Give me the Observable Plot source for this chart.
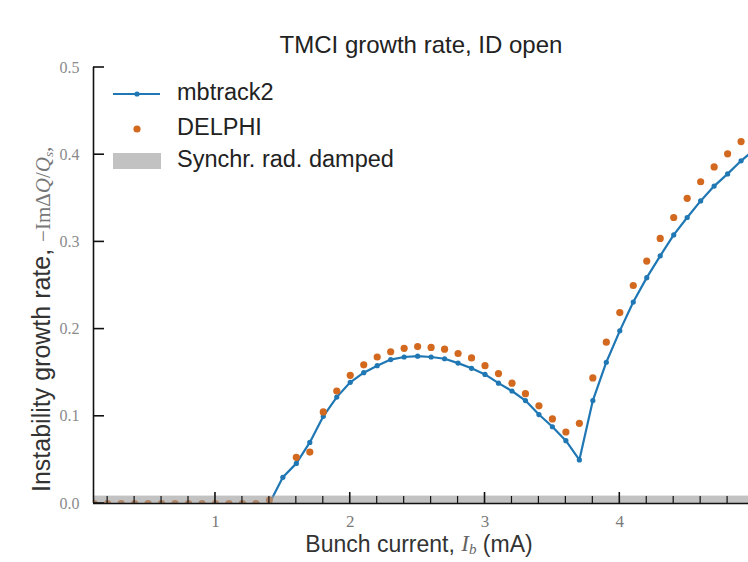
<!DOCTYPE html>
<html><head><meta charset="utf-8">
<script src="https://cdn.jsdelivr.net/npm/d3@7"></script>
<script src="https://cdn.jsdelivr.net/npm/@observablehq/plot@0.6"></script>
<style>
body{margin:0;background:#fff}
#chart{position:relative;width:748px;height:562px}
</style>
</head><body><div id="chart"></div>
<script>
// ---- data ----
const mbCurrent = [1.4,1.5,1.6,1.7,1.8,1.9,2.0,2.1,2.2,2.3,2.4,2.5,2.6,2.7,2.8,2.9,3.0,3.1,3.2,3.3,3.4,3.5,3.6,3.7,3.8,3.9,4.0,4.1,4.2,4.3,4.4,4.5,4.6,4.7,4.8,4.9,5.0];
const mbRate = [0.0,0.030,0.046,0.070,0.100,0.122,0.139,0.150,0.158,0.165,0.168,0.169,0.168,0.166,0.161,0.155,0.148,0.138,0.129,0.118,0.102,0.088,0.072,0.050,0.118,0.162,0.198,0.231,0.259,0.284,0.308,0.328,0.347,0.364,0.378,0.393,0.406];
const delphiCurrent = [0.1,0.2,0.3,0.4,0.5,0.6,0.7,0.8,0.9,1.0,1.1,1.2,1.3,1.4,1.6,1.7,1.8,1.9,2.0,2.1,2.2,2.3,2.4,2.5,2.6,2.7,2.8,2.9,3.0,3.1,3.2,3.3,3.4,3.5,3.6,3.7,3.8,3.9,4.0,4.1,4.2,4.3,4.4,4.5,4.6,4.7,4.8,4.9,5.0];
const delphiRate = [0,0,0,0,0,0,0,0,0,0,0,0,0,0.004,0.053,0.059,0.105,0.129,0.147,0.159,0.168,0.174,0.178,0.180,0.179,0.177,0.172,0.167,0.158,0.149,0.138,0.126,0.112,0.097,0.082,0.092,0.144,0.185,0.219,0.250,0.278,0.304,0.328,0.350,0.369,0.386,0.401,0.415,0.428];
const srDamping = [0.0085];
const xTicks = [1,2,3,4];
const xMinorTicks = [0.2,0.4,0.6,0.8,1.2,1.4,1.6,1.8,2.2,2.4,2.6,2.8,3.2,3.4,3.6,3.8,4.2,4.4,4.6,4.8];
const yTicks = [0,0.1,0.2,0.3,0.4,0.5];
const titleText = "TMCI growth rate, ID open";
const seriesNames = ["mbtrack2","DELPHI","Synchr. rad. damped"];

const BLUE = "#1f77b4", ORANGE = "#d2691e", GRAY = "#9a9a9a";
const mb = mbCurrent.map((x,i)=>({x, y: mbRate[i]}));
const delphi = delphiCurrent.map((x,i)=>({x, y: delphiRate[i]}));
const xDomain = [0.095, 4.955];

const plot = Plot.plot({
  width: 748, height: 562,
  marginLeft: 93, marginRight: 0, marginTop: 67, marginBottom: 59,
  x: {domain: xDomain},
  y: {domain: [0, 0.5]},
  style: {background: "transparent", overflow: "visible"},
  marks: [
    Plot.line(mb, {x: "x", y: "y", stroke: BLUE, strokeWidth: 2.2, clip: true}),
    Plot.dot(mb, {x: "x", y: "y", r: 2.6, fill: BLUE, clip: true}),
    Plot.dot(delphi, {x: "x", y: "y", r: 3.6, fill: ORANGE, clip: true}),
    Plot.rectY(srDamping, {x1: xDomain[0], x2: xDomain[1], y1: 0, y2: d => d, fill: GRAY, fillOpacity: 0.6}),
    Plot.ruleY([0], {stroke: "#111", strokeWidth: 1.6}),
    Plot.ruleX([xDomain[0]], {y1: 0, y2: 0.5, stroke: "#111", strokeWidth: 1.6}),
    Plot.axisX({ticks: xTicks, tickSize: 0, tickPadding: 11, label: null, fontSize: 17, fontFamily: "Liberation Serif", color: "#7a7a7a", tickFormat: d3.format("d")}),
    Plot.axisY({ticks: yTicks, tickSize: 0, tickPadding: 14, label: null, fontSize: 16, fontFamily: "Liberation Serif", color: "#8a8a8a", tickFormat: d3.format(".1f")})
  ]
});
document.getElementById("chart").appendChild(plot);

const svg = d3.select(plot);
const xs = plot.scale("x"), ys = plot.scale("y");

// inward ticks, placed through Plot's own scales
const tg = svg.append("g").attr("stroke", "#111");
xMinorTicks.forEach(v => tg.append("line").attr("x1", xs.apply(v)).attr("x2", xs.apply(v)).attr("y1", ys.apply(0)).attr("y2", ys.apply(0) - 7).attr("stroke-width", 1.2));
xTicks.forEach(v => tg.append("line").attr("x1", xs.apply(v)).attr("x2", xs.apply(v)).attr("y1", ys.apply(0)).attr("y2", ys.apply(0) - 11).attr("stroke-width", 1.6));
yTicks.forEach(v => tg.append("line").attr("x1", xs.apply(xDomain[0])).attr("x2", xs.apply(xDomain[0]) + 11).attr("y1", ys.apply(v)).attr("y2", ys.apply(v)).attr("stroke-width", 1.6));

// ---- text: title, axis labels, legend ----
const SANS = "Liberation Sans, Arial, sans-serif", SERIF = "Liberation Serif, serif";

svg.append("text").attr("x", 421).attr("y", 47).attr("text-anchor", "middle").attr("dominant-baseline", "middle")
  .attr("font-family", SANS).attr("font-size", 24).attr("fill", "#222").text(titleText);

const xl = svg.append("text").attr("x", 419).attr("y", 546).attr("text-anchor", "middle").attr("dominant-baseline", "middle")
  .attr("font-family", SANS).attr("font-size", 23).attr("fill", "#333");
xl.append("tspan").text("Bunch current, ");
xl.append("tspan").attr("font-family", SERIF).attr("font-style", "italic").attr("fill", "#666").text("I");
xl.append("tspan").attr("font-family", SERIF).attr("font-style", "italic").attr("font-size", 15).attr("fill", "#666").attr("dy", 5).text("b");
xl.append("tspan").attr("dy", -5).text(" (mA)");

const yl = svg.append("text").attr("transform", "translate(50,492) rotate(-90)").attr("text-anchor", "start")
  .attr("font-family", SANS).attr("font-size", 25).attr("fill", "#333");
yl.append("tspan").text("Instability growth rate, ");
yl.append("tspan").attr("font-family", SERIF).attr("font-size", 21).attr("fill", "#777").text("\u2212Im\u0394");
yl.append("tspan").attr("font-family", SERIF).attr("font-size", 21).attr("font-style", "italic").attr("fill", "#777").text("Q");
yl.append("tspan").attr("font-family", SERIF).attr("font-size", 21).attr("fill", "#777").text("/");
yl.append("tspan").attr("font-family", SERIF).attr("font-size", 21).attr("font-style", "italic").attr("fill", "#777").text("Q");
yl.append("tspan").attr("font-family", SERIF).attr("font-style", "italic").attr("font-size", 13).attr("fill", "#777").attr("dy", 3).text("s");
yl.append("tspan").attr("font-family", SERIF).attr("font-size", 21).attr("fill", "#777").attr("dy", -3).text(",");

const lg = svg.append("g").attr("font-family", SANS).attr("font-size", 23.5).attr("fill", "#222").attr("text-anchor", "start");
const rows = [94, 129, 161];
lg.append("line").attr("x1", 113).attr("x2", 160).attr("y1", rows[0]).attr("y2", rows[0]).attr("stroke", BLUE).attr("stroke-width", 2.2);
lg.append("circle").attr("cx", 137).attr("cy", rows[0]).attr("r", 2.6).attr("fill", BLUE);
lg.append("circle").attr("cx", 137).attr("cy", rows[1]).attr("r", 3.6).attr("fill", ORANGE);
lg.append("rect").attr("x", 113).attr("y", rows[2] - 8).attr("width", 48).attr("height", 16).attr("fill", GRAY).attr("fill-opacity", 0.6);
seriesNames.forEach((s, i) => {
  lg.append("text").attr("x", 177).attr("y", rows[i]).attr("dominant-baseline", "middle").attr("text-anchor", "start").text(s);
});
</script>
</body></html>
